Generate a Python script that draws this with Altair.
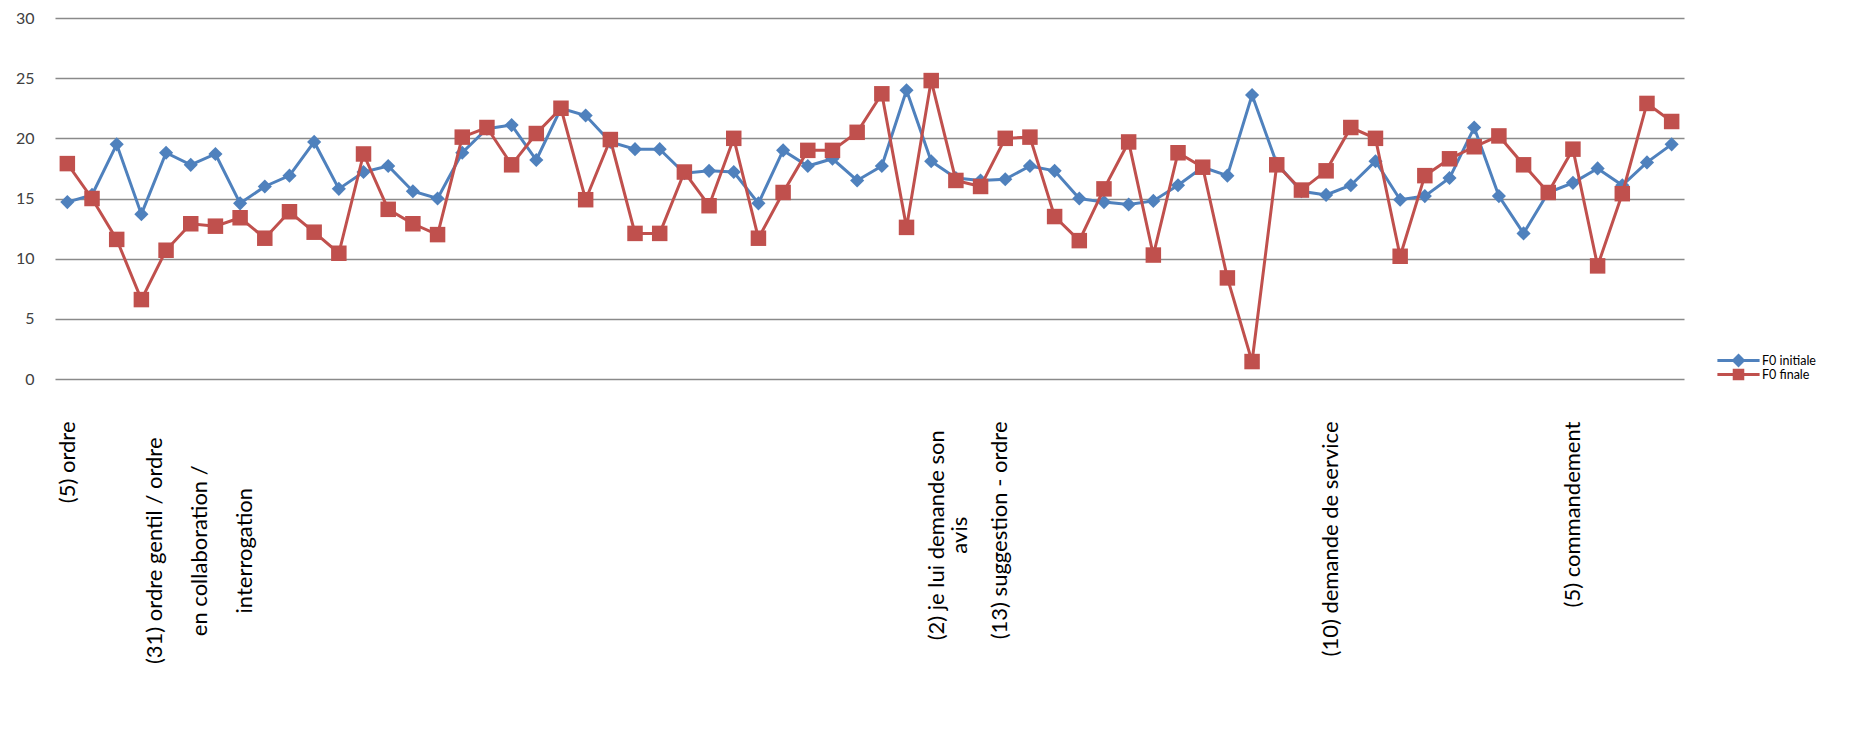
import json
import altair as alt
import pandas as pd

# ---- data ----
idx = list(range(66))

f0_initiale = [14.7, 15.3, 19.5, 13.7, 18.8, 17.8, 18.7, 14.6, 16.0, 16.9,
               19.7, 15.8, 17.2, 17.7, 15.6, 15.0, 18.8, 20.8, 21.1, 18.2,
               22.5, 21.9, 19.7, 19.1, 19.1, 17.1, 17.3, 17.2, 14.6, 19.0,
               17.7, 18.3, 16.5, 17.7, 24.0, 18.1, 16.7, 16.5, 16.6, 17.7,
               17.3, 15.0, 14.7, 14.5, 14.8, 16.1, 17.6, 16.9, 23.6, 17.9,
               15.6, 15.3, 16.1, 18.1, 14.9, 15.2, 16.7, 20.9, 15.2, 12.1,
               15.5, 16.3, 17.5, 16.1, 18.0, 19.5]

f0_finale = [17.9, 15.0, 11.6, 6.6, 10.7, 12.9, 12.7, 13.4, 11.7, 13.9,
             12.2, 10.45, 18.7, 14.1, 12.9, 12.0, 20.1, 20.9, 17.8, 20.4,
             22.5, 14.9, 19.9, 12.1, 12.1, 17.2, 14.4, 20.0, 11.7, 15.5,
             19.0, 19.0, 20.5, 23.7, 12.6, 24.8, 16.5, 16.0, 20.0, 20.1,
             13.5, 11.5, 15.8, 19.7, 10.3, 18.8, 17.6, 8.4, 1.45, 17.8,
             15.7, 17.3, 20.9, 20.0, 10.2, 16.9, 18.3, 19.3, 20.2, 17.8,
             15.5, 19.1, 9.4, 15.4, 22.9, 21.4]

# category labels (one per group of utterances; "|" = line break,
# "\u200b" = an invisible spacer line)
group_start = [0, 5, 36, 38, 51, 61]
group_label = [
    "(5) ordre",
    "(31) ordre gentil / ordre|\u200b|en collaboration /|\u200b|interrogation",
    "(2) je lui demande son|avis",
    "(13) suggestion - ordre",
    "(10) demande de service",
    "(5) commandement",
]

series_names = ["F0 initiale", "F0 finale"]
series_colors = ["#4F81BD", "#C0504D"]
series_shapes = ["diamond", "square"]
series_sizes = [200, 240]
legend_paths = [
    "M-3.7,0H3.7M0,-0.85L0.85,0L0,0.85L-0.85,0Z",
    "M-3.7,0H3.7M-0.75,-0.75H0.75V0.75H-0.75Z",
]
y_ticks = [0, 5, 10, 15, 20, 25, 30]

# ---- styling parameters ----
FONT = "Lato"
XFS = 22          # x label font size
LH = 22.5         # x label line height
PAD = 42          # x label padding
CHAR_W = 0.47     # approx. average glyph width (em) used to centre multi-line labels
label_nudge = [0, 9, -8, -6, 4, 0]   # small horizontal label shifts (px)
LEG_X, LEG_Y, LEG_STEP = 1676, 335, 14

# ---- build table ----
tick_labels = [""] * len(idx)
for s, lab in zip(group_start, group_label):
    tick_labels[s] = lab

rows = []
for name, vals in zip(series_names, [f0_initiale, f0_finale]):
    for i, v in zip(idx, vals):
        rows.append({"idx": i, "series": name, "value": v})
df = pd.DataFrame(rows)

label_expr = "split(" + json.dumps(tick_labels, ensure_ascii=False) + "[datum.value], '|')"

# multi-line labels: lines centred on each other, block centred on its tick
align_cond, pad_cond, off_cond = [], [], []
for s, lab, nudge in zip(group_start, group_label, label_nudge):
    lines = lab.split("|")
    test = f"datum.value == {s}"
    if len(lines) > 1:
        longest = max(len(l) for l in lines)
        align_cond.append({"test": test, "value": "center"})
        pad_cond.append({"test": test, "value": PAD + longest * XFS * CHAR_W / 2})
    off = -(len(lines) - 1) * LH / 2 + nudge
    if off != 0:
        off_cond.append({"test": test, "value": off})

x = alt.X(
    "idx:O",
    scale=alt.Scale(domain=idx, padding=0.5),
    axis=alt.Axis(
        title=None, labelAngle=270, labelExpr=label_expr, ticks=False,
        domain=False, labelFontSize=XFS, labelFont=FONT, labelColor="#000000",
        labelLimit=600, labelLineHeight=LH, labelOverlap=False, grid=False,
        labelAlign={"condition": align_cond, "value": "right"},
        labelPadding={"condition": pad_cond, "value": PAD},
        labelOffset={"condition": off_cond, "value": 0},
    ),
)
y = alt.Y(
    "value:Q",
    scale=alt.Scale(domain=[0, 30], nice=False),
    axis=alt.Axis(
        title=None, values=y_ticks, grid=True, gridColor="#8a8a8a",
        gridWidth=1.5, ticks=False, domain=False, labelFontSize=16,
        labelPadding=21, labelColor="#404040", labelFont=FONT,
    ),
)

layers = []
for name, color, shape, size in zip(series_names, series_colors, series_shapes, series_sizes):
    base = alt.Chart(df).transform_filter(alt.datum.series == name)
    layers.append(base.mark_line(color=color, strokeWidth=3).encode(x=x, y=y))
    layers.append(
        base.mark_point(shape=shape, filled=True, size=size, color=color, opacity=1).encode(x=x, y=y)
    )

# one legend per series (stacked), each drawing a line + marker symbol
for k, (name, color, path) in enumerate(zip(series_names, series_colors, legend_paths)):
    leg = alt.Legend(
        title=None, orient="none", legendX=LEG_X, legendY=LEG_Y + k * LEG_STEP,
        labelFontSize=12.5, labelFont=FONT, labelColor="#000000",
        symbolSize=130, symbolStrokeWidth=3, labelOffset=16, padding=0,
    )
    layers.append(
        alt.Chart(df)
        .transform_filter("false")
        .mark_point(filled=True, opacity=1, size=130, strokeWidth=3)
        .encode(
            x=x, y=y,
            fill=alt.Fill("series:N", scale=alt.Scale(domain=[name], range=[color]), legend=leg),
            stroke=alt.Stroke("series:N", scale=alt.Scale(domain=[name], range=[color]), legend=leg),
            shape=alt.Shape("series:N", scale=alt.Scale(domain=[name], range=[path]), legend=leg),
        )
    )

chart = (
    alt.layer(*layers)
    .resolve_scale(fill="independent", stroke="independent", shape="independent")
    .properties(
        width=1629, height=361,
        autosize=alt.AutoSizeParams(type="none"),
        padding={"left": 47, "top": 10, "right": 170, "bottom": 345},
        background="white",
    )
    .configure_view(stroke=None)
)

chart.save("out.html", embed_options={"renderer": "svg", "actions": False})
